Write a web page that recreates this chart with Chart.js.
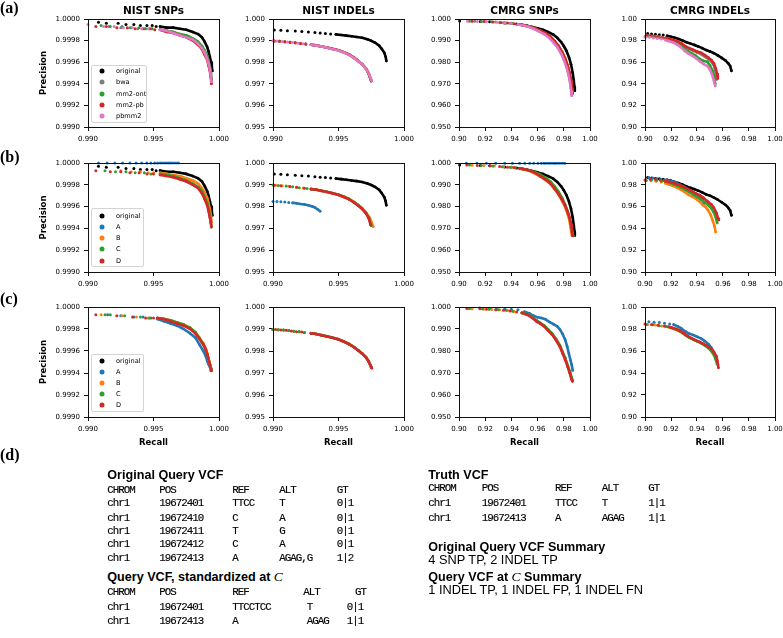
<!DOCTYPE html>
<html><head><meta charset="utf-8">
<script src="https://cdn.jsdelivr.net/npm/chart.js@4.4.0/dist/chart.umd.min.js"></script>
<style>
html,body{margin:0;padding:0;background:#fff;}
body{width:783px;height:638px;position:relative;overflow:hidden;font-family:'DejaVu Sans',sans-serif;color:#000;}
canvas{position:absolute;}
.t{position:absolute;white-space:nowrap;line-height:1;transform:translateY(-50%);}
.ptitle{font:bold 10.5px 'DejaVu Sans';transform:translate(-50%,-50%);}
.lab{font:bold 16px 'Liberation Serif';}
.hd{font:bold 12.6px 'Liberation Sans';}
.tx{font:12.8px 'Liberation Sans';}
.mono{font:10.8px 'Liberation Mono';letter-spacing:-0.98px;-webkit-text-stroke:0.15px #000;}
.leg{position:absolute;border:1px solid #d4d4d4;border-radius:2px;background:rgba(255,255,255,0.85);box-sizing:border-box;}
.legtxt{font:6.6px 'DejaVu Sans';}
.dot{position:absolute;width:5px;height:5px;border-radius:50%;transform:translate(-50%,-50%);}
i.m{font-family:'Liberation Serif';font-weight:normal;font-style:italic;font-size:13.5px;}
</style>
</head><body>
<script>
// ---------------- categories / labels ----------------
const panelTitles = ['NIST SNPs','NIST INDELs','CMRG SNPs','CMRG INDELs'];
const rowLabels = ['(a)','(b)','(c)','(d)'];
const legendA = ['original','bwa','mm2-ont','mm2-pb','pbmm2'];
const legendBC = ['original','A','B','C','D'];
const xTicksNist = ['0.990','0.995','1.000'];
const xTicksCmrg = ['0.90','0.92','0.94','0.96','0.98','1.00'];
const yTicksNistSnp = ['0.9990','0.9992','0.9994','0.9996','0.9998','1.0000'];
const yTicksNistIndel = ['0.995','0.996','0.997','0.998','0.999','1.000'];
const yTicksCmrgSnp = ['0.950','0.960','0.970','0.980','0.990','1.000'];
const yTicksCmrgIndel = ['0.90','0.92','0.94','0.96','0.98','1.00'];

// ---------------- data: [recall, precision] ----------------
// Row (a) NIST SNPs
const a1_orig_d = [[0.9908,0.99997],[0.9914,0.99996],[0.9923,0.99996],[0.9929,0.99995],[0.9935,0.99995],[0.9940,0.99994],[0.9945,0.99994],[0.9949,0.99994],[0.9952,0.99993]];
const a1_orig_l = [[0.9955,0.99993],[0.9960,0.99992],[0.9965,0.99992],[0.9970,0.99991],[0.9975,0.99990],[0.9980,0.99988],[0.9984,0.99986],[0.9987,0.99983],[0.9989,0.99979],[0.9991,0.99974],[0.9992,0.99970],[0.9993,0.99965],[0.99940,0.99960],[0.99945,0.99956],[0.99949,0.99952]];
const a1_bwa_d = [[0.9916,0.99993],[0.9925,0.99992],[0.9932,0.99992],[0.9938,0.99991],[0.9943,0.99991],[0.9948,0.99991]];
const a1_bwa_l = [[0.9955,0.99990],[0.9960,0.99989],[0.9965,0.99988],[0.9970,0.99986],[0.9975,0.99984],[0.9980,0.99981],[0.9984,0.99978],[0.9987,0.99974],[0.9989,0.99970],[0.9991,0.99964],[0.9992,0.99960],[0.9993,0.99955],[0.99938,0.99949],[0.99942,0.99943]];
const a1_ont_d = [[0.9910,0.99994],[0.9917,0.99993],[0.9926,0.99993],[0.9933,0.99992],[0.9939,0.99992],[0.9944,0.99991],[0.9949,0.99991]];
const a1_ont_l = [[0.9955,0.99990],[0.9960,0.99989],[0.9965,0.99988],[0.9970,0.99986],[0.9975,0.99985],[0.9980,0.99982],[0.9984,0.99979],[0.9987,0.99975],[0.9989,0.99971],[0.9991,0.99966],[0.9992,0.99961],[0.9993,0.99956],[0.99938,0.99950],[0.99942,0.99944]];
const a1_pb_d = [[0.9906,0.99993],[0.9914,0.99993],[0.9922,0.99992],[0.9930,0.99992],[0.9936,0.99991],[0.9942,0.99991],[0.9947,0.99991],[0.9951,0.99990]];
const a1_pb_l = [[0.9955,0.99990],[0.9960,0.99988],[0.9965,0.99987],[0.9970,0.99985],[0.9975,0.99983],[0.9980,0.99980],[0.9984,0.99976],[0.9987,0.99972],[0.9989,0.99967],[0.9991,0.99962],[0.9992,0.99957],[0.9993,0.99952],[0.99938,0.99946],[0.99942,0.99940]];
const a1_pbmm2_d = [[0.9900,0.99995],[0.9912,0.99993],[0.9920,0.99993],[0.9927,0.99992],[0.9934,0.99992],[0.9941,0.99991],[0.9946,0.99991]];
const a1_pbmm2_l = [[0.9955,0.99990],[0.9960,0.99989],[0.9965,0.99987],[0.9970,0.99985],[0.9975,0.99983],[0.9980,0.99981],[0.9984,0.99977],[0.9987,0.99973],[0.9989,0.99969],[0.9991,0.99963],[0.9992,0.99959],[0.9993,0.99954],[0.99938,0.99948],[0.99941,0.99942]];
// Row (a) NIST INDELs
const a2_orig_d = [[0.9901,0.99949],[0.9906,0.99948],[0.9911,0.99946],[0.9917,0.99944],[0.9922,0.99942],[0.9927,0.99940],[0.9932,0.99937],[0.9936,0.99935],[0.9940,0.99933],[0.9944,0.99931]];
const a2_orig_l = [[0.9948,0.99929],[0.9952,0.99926],[0.9956,0.99923],[0.9960,0.99920],[0.9964,0.99917],[0.9968,0.99913],[0.9972,0.99906],[0.9975,0.99899],[0.9978,0.99890],[0.9981,0.99877],[0.9983,0.99862],[0.9985,0.99843],[0.9986,0.99825],[0.99865,0.99806]];
const a2_mapped_d = [[0.9901,0.99898],[0.9905,0.99897],[0.9909,0.99895],[0.9913,0.99892],[0.9917,0.99890],[0.9921,0.99887],[0.9925,0.99884]];
const a2_mapped_l = [[0.9929,0.99881],[0.9933,0.99878],[0.9937,0.99873],[0.9941,0.99868],[0.9945,0.99862],[0.9950,0.99855],[0.9954,0.99846],[0.9958,0.99836],[0.9962,0.99820],[0.9965,0.99806],[0.9968,0.99791],[0.9971,0.99770],[0.9973,0.99748],[0.9975,0.99713]];
const a2_pbmm2_d = [[0.9900,0.99899],[0.9903,0.99898],[0.9907,0.99896],[0.9911,0.99894],[0.9915,0.99891],[0.9919,0.99888],[0.9923,0.99885]];
const a2_pbmm2_l = [[0.9929,0.99881],[0.9933,0.99877],[0.9937,0.99873],[0.9941,0.99867],[0.9945,0.99861],[0.9950,0.99854],[0.9954,0.99845],[0.9958,0.99834],[0.9962,0.99819],[0.9965,0.99805],[0.9968,0.99790],[0.9971,0.99769],[0.9973,0.99750],[0.99752,0.99716]];
// Row (a) CMRG SNPs
const a3_orig_d = [[0.9005,0.9991],[0.9163,0.9988],[0.9234,0.9987],[0.9349,0.9982],[0.9400,0.9980],[0.9440,0.9977]];
const a3_orig_l = [[0.9480,0.9973],[0.9520,0.9969],[0.9560,0.9963],[0.9600,0.9957],[0.9640,0.9950],[0.9680,0.9940],[0.9720,0.9928],[0.9750,0.9913],[0.9780,0.9893],[0.9800,0.9875],[0.9820,0.9853],[0.9840,0.9822],[0.9855,0.9790],[0.9868,0.9750],[0.9876,0.9715],[0.9882,0.9685],[0.9884,0.9668]];
const a3_bwa_d = [[0.9120,0.9990],[0.9200,0.9988],[0.9280,0.9986],[0.9340,0.9983],[0.9390,0.9980]];
const a3_bwa_l = [[0.9450,0.9976],[0.9490,0.9971],[0.9530,0.9965],[0.9570,0.9956],[0.9610,0.9944],[0.9650,0.9932],[0.9690,0.9914],[0.9720,0.9895],[0.9750,0.9872],[0.9780,0.9842],[0.9800,0.9815],[0.9820,0.9782],[0.9838,0.9745],[0.9850,0.9705],[0.9857,0.9672],[0.9862,0.9650]];
const a3_ont_d = [[0.9080,0.9990],[0.9170,0.9989],[0.9250,0.9987],[0.9310,0.9984],[0.9360,0.9982],[0.9410,0.9979]];
const a3_ont_l = [[0.9460,0.9975],[0.9500,0.9970],[0.9540,0.9964],[0.9580,0.9956],[0.9620,0.9945],[0.9660,0.9933],[0.9700,0.9916],[0.9730,0.9896],[0.9760,0.9873],[0.9790,0.9842],[0.9810,0.9815],[0.9830,0.9781],[0.9845,0.9744],[0.9855,0.9708],[0.9861,0.9676],[0.9865,0.9655]];
const a3_pb_d = [[0.9100,0.9990],[0.9190,0.9989],[0.9260,0.9986],[0.9320,0.9984],[0.9370,0.9981],[0.9420,0.9978]];
const a3_pb_l = [[0.9460,0.9975],[0.9500,0.9970],[0.9540,0.9965],[0.9580,0.9957],[0.9620,0.9946],[0.9660,0.9935],[0.9700,0.9918],[0.9730,0.9898],[0.9760,0.9876],[0.9790,0.9845],[0.9810,0.9818],[0.9830,0.9785],[0.9845,0.9748],[0.9856,0.9712],[0.9862,0.9680],[0.9866,0.9656]];
const a3_pbmm2_d = [[0.9065,0.9990],[0.9140,0.9989],[0.9210,0.9988],[0.9290,0.9985],[0.9350,0.9982],[0.9400,0.9979]];
const a3_pbmm2_l = [[0.9450,0.9975],[0.9490,0.9970],[0.9530,0.9964],[0.9570,0.9955],[0.9610,0.9943],[0.9650,0.9930],[0.9690,0.9912],[0.9720,0.9892],[0.9750,0.9870],[0.9780,0.9840],[0.9800,0.9812],[0.9820,0.9778],[0.9837,0.9740],[0.9849,0.9700],[0.9856,0.9665],[0.9860,0.9645]];
// Row (a) CMRG INDELs
const a4_orig_d = [[0.9020,0.9866],[0.9050,0.9862],[0.9080,0.9858],[0.9110,0.9855],[0.9140,0.9851]];
const a4_orig_l = [[0.9170,0.9845],[0.9200,0.9836],[0.9230,0.9826],[0.9260,0.9815],[0.9290,0.9800],[0.9320,0.9785],[0.9350,0.9772],[0.9380,0.9760],[0.9410,0.9746],[0.9440,0.9730],[0.9470,0.9712],[0.9500,0.9700],[0.9530,0.9683],[0.9560,0.9663],[0.9590,0.9640],[0.9620,0.9615],[0.9640,0.9590],[0.9655,0.9565],[0.9665,0.9520]];
const a4_bwa_d = [[0.9015,0.9845],[0.9045,0.9843],[0.9075,0.9840],[0.9105,0.9835],[0.9135,0.9828]];
const a4_bwa_l = [[0.9160,0.9820],[0.9190,0.9810],[0.9220,0.9800],[0.9250,0.9786],[0.9280,0.9768],[0.9310,0.9740],[0.9340,0.9722],[0.9370,0.9705],[0.9400,0.9690],[0.9430,0.9675],[0.9460,0.9650],[0.9490,0.9628],[0.9510,0.9605],[0.9530,0.9570],[0.9545,0.9500],[0.9550,0.9440]];
const a4_ont_d = [[0.9000,0.9835],[0.9030,0.9838],[0.9060,0.9835],[0.9090,0.9830],[0.9120,0.9825]];
const a4_ont_l = [[0.9150,0.9818],[0.9180,0.9808],[0.9210,0.9797],[0.9240,0.9783],[0.9270,0.9762],[0.9300,0.9725],[0.9330,0.9700],[0.9360,0.9680],[0.9390,0.9660],[0.9420,0.9630],[0.9450,0.9612],[0.9480,0.9605],[0.9500,0.9570],[0.9520,0.9520],[0.9535,0.9460],[0.9540,0.9400]];
const a4_pb_d = [[0.9010,0.9850],[0.9040,0.9848],[0.9070,0.9843],[0.9100,0.9838],[0.9130,0.9832]];
const a4_pb_l = [[0.9160,0.9825],[0.9190,0.9815],[0.9220,0.9806],[0.9250,0.9793],[0.9280,0.9775],[0.9310,0.9748],[0.9340,0.9730],[0.9370,0.9715],[0.9400,0.9700],[0.9430,0.9688],[0.9460,0.9665],[0.9490,0.9640],[0.9510,0.9620],[0.9530,0.9590],[0.9545,0.9540],[0.9555,0.9490],[0.9560,0.9450]];
const a4_pbmm2_d = [[0.9005,0.9830],[0.9035,0.9830],[0.9065,0.9825],[0.9095,0.9820],[0.9125,0.9815]];
const a4_pbmm2_l = [[0.9155,0.9806],[0.9185,0.9795],[0.9215,0.9782],[0.9245,0.9765],[0.9275,0.9740],[0.9305,0.9705],[0.9335,0.9680],[0.9365,0.9658],[0.9395,0.9635],[0.9425,0.9605],[0.9455,0.9580],[0.9480,0.9565],[0.9500,0.9530],[0.9515,0.9490],[0.9530,0.9430],[0.9540,0.9380]];

// Row (b) NIST SNPs (original reused from row a)
const b1_A_d = [[0.9908,1.0],[0.99146,1.0],[0.99205,1.0],[0.99264,1.0],[0.9932,1.0],[0.99367,1.0],[0.9941,1.0],[0.99449,1.0],[0.9948,1.0],[0.99508,1.0],[0.99531,1.0]];
const b1_A_l = [[0.9955,1.0],[0.9962,1.0],[0.9969,1.0]];
const b1_B_d = [[0.9925,0.99993],[0.9933,0.99992],[0.9940,0.99992],[0.9946,0.99991],[0.9950,0.99991]];
const b1_B_l = [[0.9955,0.99991],[0.9960,0.99990],[0.9965,0.99989],[0.9970,0.99988],[0.9975,0.99986],[0.9980,0.99984],[0.9984,0.99981],[0.9987,0.99977],[0.9989,0.99973],[0.9991,0.99968],[0.9992,0.99963],[0.9993,0.99958],[0.99938,0.99952],[0.99943,0.99946]];
const b1_C_d = [[0.9913,0.99993],[0.9921,0.99992],[0.9929,0.99992],[0.9936,0.99991],[0.9943,0.99991],[0.9948,0.99990]];
const b1_C_l = [[0.9955,0.99990],[0.9960,0.99989],[0.9965,0.99988],[0.9970,0.99986],[0.9975,0.99984],[0.9980,0.99981],[0.9984,0.99978],[0.9987,0.99974],[0.9989,0.99969],[0.9991,0.99963],[0.9992,0.99958],[0.9993,0.99952],[0.99938,0.99946],[0.99941,0.99941]];
const b1_D_d = [[0.9906,0.99993],[0.9917,0.99992],[0.9925,0.99992],[0.9932,0.99991],[0.9939,0.99991],[0.9945,0.99990],[0.9950,0.99990]];
const b1_D_l = [[0.9955,0.99989],[0.9960,0.99988],[0.9965,0.99987],[0.9970,0.99985],[0.9975,0.99983],[0.9980,0.99980],[0.9984,0.99977],[0.9987,0.99972],[0.9989,0.99967],[0.9991,0.99961],[0.9992,0.99956],[0.9993,0.99950],[0.99938,0.99945],[0.99942,0.99942]];
// Row (b) NIST INDELs
const b2_A_d = [[0.9900,0.99823],[0.9903,0.99823],[0.9906,0.99822],[0.9909,0.99821],[0.9912,0.99819]];
const b2_A_l = [[0.9915,0.99817],[0.9918,0.99815],[0.9921,0.99812],[0.9924,0.99810],[0.9927,0.99806],[0.9930,0.99801],[0.9932,0.99796],[0.9934,0.99788],[0.9936,0.99779]];
const b2_B_d = [[0.9902,0.99898],[0.9907,0.99896],[0.9912,0.99893],[0.9918,0.99889],[0.9923,0.99885]];
const b2_B_l = [[0.9929,0.99881],[0.9933,0.99878],[0.9937,0.99873],[0.9941,0.99868],[0.9945,0.99862],[0.9950,0.99855],[0.9954,0.99846],[0.9958,0.99836],[0.9962,0.99821],[0.9965,0.99808],[0.9968,0.99793],[0.9971,0.99773],[0.9974,0.99748],[0.99765,0.99708]];
const b2_C_d = [[0.9900,0.99899],[0.9904,0.99897],[0.9910,0.99894],[0.9915,0.99891],[0.9920,0.99887],[0.9926,0.99883]];
const b2_C_l = [[0.9929,0.99881],[0.9933,0.99877],[0.9937,0.99873],[0.9941,0.99868],[0.9945,0.99862],[0.9950,0.99854],[0.9954,0.99845],[0.9958,0.99835],[0.9962,0.99820],[0.9965,0.99806],[0.9968,0.99791],[0.9971,0.99771],[0.9973,0.99750],[0.99750,0.99712]];
const b2_D_d = [[0.9901,0.99898],[0.9906,0.99896],[0.9913,0.99892],[0.9918,0.99889],[0.9924,0.99884]];
const b2_D_l = [[0.9929,0.99880],[0.9933,0.99877],[0.9937,0.99872],[0.9941,0.99867],[0.9945,0.99861],[0.9950,0.99853],[0.9954,0.99844],[0.9958,0.99833],[0.9962,0.99818],[0.9965,0.99804],[0.9968,0.99789],[0.9971,0.99768],[0.9973,0.99748],[0.99745,0.99716]];
// Row (b) CMRG SNPs
const b3_A_d = [[0.9056,0.9999],[0.9137,0.9999],[0.9209,0.9999],[0.9280,0.9999],[0.9349,0.9999],[0.9408,0.9999],[0.9463,0.9999],[0.9502,0.9999],[0.9540,0.9999],[0.9570,0.9999],[0.9603,0.9999],[0.9629,0.9999]];
const b3_A_l = [[0.9650,0.9999],[0.9730,0.9999],[0.9808,0.9999]];
const b3_B_d = [[0.9100,0.9990],[0.9190,0.9988],[0.9270,0.9986],[0.9340,0.9983],[0.9400,0.9980]];
const b3_B_l = [[0.9460,0.9975],[0.9500,0.9970],[0.9540,0.9963],[0.9580,0.9952],[0.9620,0.9938],[0.9660,0.9922],[0.9700,0.9902],[0.9730,0.9880],[0.9760,0.9855],[0.9790,0.9823],[0.9810,0.9798],[0.9830,0.9765],[0.9843,0.9735],[0.9852,0.9705],[0.9858,0.9680],[0.9862,0.9668]];
const b3_C_d = [[0.9080,0.9991],[0.9170,0.9989],[0.9260,0.9986],[0.9330,0.9983],[0.9390,0.9980],[0.9430,0.9978]];
const b3_C_l = [[0.9460,0.9976],[0.9500,0.9971],[0.9540,0.9966],[0.9580,0.9958],[0.9620,0.9947],[0.9660,0.9933],[0.9700,0.9914],[0.9730,0.9893],[0.9760,0.9868],[0.9790,0.9837],[0.9810,0.9810],[0.9830,0.9778],[0.9848,0.9740],[0.9860,0.9705],[0.9867,0.9678],[0.9872,0.9665]];
const b3_D_d = [[0.9060,0.9991],[0.9140,0.9989],[0.9240,0.9987],[0.9310,0.9984],[0.9370,0.9981],[0.9420,0.9979]];
const b3_D_l = [[0.9460,0.9976],[0.9500,0.9971],[0.9540,0.9965],[0.9580,0.9955],[0.9620,0.9940],[0.9660,0.9924],[0.9700,0.9905],[0.9730,0.9882],[0.9760,0.9858],[0.9790,0.9828],[0.9810,0.9805],[0.9830,0.9775],[0.9845,0.9748],[0.9856,0.9715],[0.9862,0.9685],[0.9866,0.9666]];
// Row (b) CMRG INDELs
const b4_A_d = [[0.9030,0.9868],[0.9060,0.9862],[0.9090,0.9858],[0.9120,0.9852]];
const b4_A_l = [[0.9150,0.9846],[0.9180,0.9838],[0.9210,0.9830],[0.9240,0.9818],[0.9270,0.9800],[0.9300,0.9780],[0.9330,0.9760],[0.9360,0.9738],[0.9390,0.9715],[0.9420,0.9690],[0.9440,0.9665],[0.9455,0.9630]];
const b4_B_d = [[0.9005,0.9838],[0.9045,0.9838],[0.9085,0.9832],[0.9125,0.9825]];
const b4_B_l = [[0.9155,0.9815],[0.9185,0.9803],[0.9215,0.9790],[0.9245,0.9775],[0.9275,0.9755],[0.9305,0.9735],[0.9335,0.9708],[0.9365,0.9690],[0.9395,0.9670],[0.9425,0.9640],[0.9445,0.9614],[0.9465,0.9598],[0.9485,0.9568],[0.9505,0.9525],[0.9520,0.9476],[0.9535,0.9420],[0.9543,0.9367]];
const b4_C_d = [[0.9010,0.9840],[0.9050,0.9845],[0.9090,0.9842],[0.9130,0.9835]];
const b4_C_l = [[0.9160,0.9828],[0.9190,0.9818],[0.9220,0.9806],[0.9250,0.9792],[0.9280,0.9775],[0.9310,0.9755],[0.9340,0.9735],[0.9370,0.9712],[0.9400,0.9690],[0.9430,0.9665],[0.9460,0.9640],[0.9490,0.9610],[0.9510,0.9585],[0.9530,0.9545],[0.9545,0.9500],[0.9555,0.9450]];
const b4_D_d = [[0.9000,0.9845],[0.9040,0.9850],[0.9080,0.9848],[0.9120,0.9842]];
const b4_D_l = [[0.9150,0.9836],[0.9180,0.9828],[0.9210,0.9820],[0.9240,0.9808],[0.9270,0.9795],[0.9300,0.9778],[0.9330,0.9760],[0.9360,0.9742],[0.9390,0.9722],[0.9420,0.9705],[0.9450,0.9680],[0.9480,0.9650],[0.9510,0.9620],[0.9530,0.9590],[0.9550,0.9540],[0.9562,0.9490],[0.9568,0.9478]];

// Row (c) NIST SNPs
const c1_A_d = [[0.9915,0.99993],[0.9925,0.99992],[0.9935,0.99991],[0.9942,0.99991],[0.9948,0.99990]];
const c1_A_l = [[0.9953,0.99989],[0.9958,0.99987],[0.9963,0.99985],[0.9968,0.99983],[0.9973,0.99980],[0.9978,0.99976],[0.9982,0.99972],[0.9985,0.99966],[0.9988,0.99960],[0.9990,0.99955],[0.9991,0.99951],[0.9992,0.99948],[0.99932,0.99945],[0.99938,0.99942]];
const c1_B_d = [[0.9910,0.99993],[0.9926,0.99992],[0.9937,0.99991],[0.9946,0.99990]];
const c1_B_l = [[0.9953,0.99990],[0.9958,0.99989],[0.9963,0.99988],[0.9968,0.99986],[0.9973,0.99984],[0.9978,0.99981],[0.9982,0.99977],[0.9985,0.99972],[0.9988,0.99967],[0.9990,0.99962],[0.9991,0.99958],[0.9992,0.99953],[0.9993,0.99948],[0.99942,0.99943]];
const c1_C_d = [[0.9913,0.99993],[0.9917,0.99993],[0.9928,0.99992],[0.9940,0.99991],[0.9947,0.99990]];
const c1_C_l = [[0.9953,0.99990],[0.9958,0.99989],[0.9963,0.99988],[0.9968,0.99986],[0.9973,0.99984],[0.9978,0.99981],[0.9982,0.99977],[0.9985,0.99972],[0.9988,0.99966],[0.9990,0.99961],[0.9991,0.99957],[0.9992,0.99953],[0.9993,0.99948],[0.99942,0.99943]];
const c1_D_d = [[0.9906,0.99993],[0.9922,0.99992],[0.9934,0.99991],[0.9944,0.99990],[0.9950,0.99990]];
const c1_D_l = [[0.9953,0.99990],[0.9958,0.99989],[0.9963,0.99987],[0.9968,0.99985],[0.9973,0.99983],[0.9978,0.99980],[0.9982,0.99976],[0.9985,0.99971],[0.9988,0.99966],[0.9990,0.99961],[0.9991,0.99957],[0.9992,0.99953],[0.9993,0.99948],[0.99943,0.99942]];
// Row (c) NIST INDELs
const c2_ABC_d = [[0.9900,0.99898],[0.9904,0.99897],[0.9908,0.99895],[0.9912,0.99893],[0.9916,0.99890],[0.9920,0.99887],[0.9924,0.99884]];
const c2_ABC_l = [[0.9929,0.99881],[0.9933,0.99877],[0.9937,0.99872],[0.9941,0.99867],[0.9945,0.99861],[0.9950,0.99853],[0.9954,0.99843],[0.9958,0.99832],[0.9962,0.99817],[0.9965,0.99803],[0.9968,0.99789],[0.9971,0.99772],[0.9973,0.99754],[0.99750,0.99725]];
const c2_D_d = [[0.9902,0.99898],[0.9906,0.99896],[0.9910,0.99894],[0.9914,0.99891],[0.9918,0.99888],[0.9922,0.99886]];
const c2_D_l = [[0.9929,0.99880],[0.9933,0.99877],[0.9937,0.99872],[0.9941,0.99866],[0.9945,0.99860],[0.9950,0.99852],[0.9954,0.99843],[0.9958,0.99831],[0.9962,0.99816],[0.9965,0.99802],[0.9968,0.99788],[0.9971,0.99770],[0.9973,0.99752],[0.99755,0.99722]];
// Row (c) CMRG SNPs
const c3_A_d = [[0.9158,0.9995],[0.9240,0.9993],[0.9285,0.9992],[0.9349,0.9991],[0.9400,0.9990],[0.9450,0.9987]];
const c3_A_l = [[0.9500,0.9978],[0.9540,0.9970],[0.9570,0.9960],[0.9600,0.9953],[0.9630,0.9950],[0.9660,0.9944],[0.9690,0.9932],[0.9720,0.9922],[0.9750,0.9912],[0.9770,0.9898],[0.9790,0.9878],[0.9810,0.9852],[0.9825,0.9822],[0.9838,0.9790],[0.9850,0.9760],[0.9860,0.9738],[0.9868,0.9712]];
const c3_B_d = [[0.9100,0.9992],[0.9190,0.9991],[0.9250,0.9989],[0.9310,0.9987],[0.9370,0.9984],[0.9420,0.9979]];
const c3_B_l = [[0.9480,0.9973],[0.9520,0.9966],[0.9560,0.9952],[0.9590,0.9937],[0.9620,0.9926],[0.9650,0.9914],[0.9680,0.9895],[0.9710,0.9877],[0.9740,0.9852],[0.9770,0.9822],[0.9790,0.9793],[0.9810,0.9765],[0.9830,0.9730],[0.9846,0.9702],[0.9859,0.9675],[0.9867,0.9664]];
const c3_C_d = [[0.9080,0.9992],[0.9180,0.9991],[0.9230,0.9990],[0.9300,0.9988],[0.9360,0.9985],[0.9410,0.9981]];
const c3_C_l = [[0.9480,0.9974],[0.9520,0.9967],[0.9560,0.9955],[0.9590,0.9940],[0.9620,0.9928],[0.9650,0.9916],[0.9680,0.9898],[0.9710,0.9880],[0.9740,0.9856],[0.9770,0.9826],[0.9790,0.9798],[0.9810,0.9770],[0.9830,0.9735],[0.9848,0.9705],[0.9860,0.9680],[0.9868,0.9665]];
const c3_D_d = [[0.9060,0.9993],[0.9160,0.9992],[0.9210,0.9990],[0.9280,0.9988],[0.9340,0.9985],[0.9390,0.9982],[0.9440,0.9977]];
const c3_D_l = [[0.9480,0.9973],[0.9520,0.9965],[0.9560,0.9950],[0.9590,0.9935],[0.9620,0.9924],[0.9650,0.9912],[0.9680,0.9893],[0.9710,0.9875],[0.9740,0.9850],[0.9770,0.9820],[0.9790,0.9790],[0.9810,0.9762],[0.9830,0.9728],[0.9845,0.9700],[0.9858,0.9672],[0.9866,0.9662]];
// Row (c) CMRG INDELs
const c4_A_d = [[0.9030,0.9866],[0.9070,0.9862],[0.9110,0.9858],[0.9150,0.9852],[0.9190,0.9846]];
const c4_A_l = [[0.9220,0.9840],[0.9250,0.9825],[0.9280,0.9805],[0.9310,0.9778],[0.9340,0.9758],[0.9370,0.9745],[0.9400,0.9730],[0.9430,0.9715],[0.9460,0.9690],[0.9490,0.9660],[0.9510,0.9630],[0.9530,0.9590],[0.9545,0.9545],[0.9555,0.9510]];
const c4_B_d = [[0.9020,0.9842],[0.9080,0.9836],[0.9130,0.9828]];
const c4_B_l = [[0.9170,0.9820],[0.9200,0.9810],[0.9230,0.9798],[0.9260,0.9782],[0.9290,0.9760],[0.9320,0.9738],[0.9350,0.9718],[0.9380,0.9700],[0.9410,0.9685],[0.9440,0.9668],[0.9470,0.9645],[0.9500,0.9615],[0.9520,0.9585],[0.9540,0.9545],[0.9550,0.9505]];
const c4_C_d = [[0.9010,0.9840],[0.9060,0.9838],[0.9110,0.9830],[0.9160,0.9822]];
const c4_C_l = [[0.9190,0.9815],[0.9220,0.9805],[0.9250,0.9792],[0.9280,0.9772],[0.9310,0.9745],[0.9340,0.9722],[0.9370,0.9705],[0.9400,0.9688],[0.9430,0.9672],[0.9460,0.9650],[0.9490,0.9625],[0.9510,0.9600],[0.9530,0.9565],[0.9545,0.9520],[0.9555,0.9480]];
const c4_D_d = [[0.9000,0.9845],[0.9050,0.9842],[0.9100,0.9835],[0.9150,0.9828]];
const c4_D_l = [[0.9180,0.9820],[0.9210,0.9812],[0.9240,0.9800],[0.9270,0.9785],[0.9300,0.9760],[0.9330,0.9735],[0.9360,0.9715],[0.9390,0.9698],[0.9420,0.9683],[0.9450,0.9665],[0.9480,0.9645],[0.9510,0.9620],[0.9530,0.9590],[0.9550,0.9550],[0.9560,0.9490],[0.9565,0.9448]];

// ---------------- table text (panel d) ----------------
const vcfHeader = ['CHROM','POS','REF','ALT','GT'];
const origQueryRows = [['chr1','19672401','TTCC','T','0|1'],['chr1','19672410','C','A','0|1'],['chr1','19672411','T','G','0|1'],['chr1','19672412','C','A','0|1'],['chr1','19672413','A','AGAG,G','1|2']];
const stdQueryRows = [['chr1','19672401','TTCCTCC','T','0|1'],['chr1','19672413','A','AGAG','1|1']];
const truthRows = [['chr1','19672401','TTCC','T','1|1'],['chr1','19672413','A','AGAG','1|1']];
const summaryOrig = '4 SNP TP, 2 INDEL TP';
const summaryStd = '1 INDEL TP, 1 INDEL FP, 1 INDEL FN';

// ---------------- styling / layout ----------------
const COL = {orig:'#000000', bwa:'#7f7f7f', ont:'#2ca02c', pb:'#d62728', pbmm2:'#e377c2', A:'#1f77b4', B:'#ff7f0e', C:'#2ca02c', D:'#d62728'};
const COLS = [{left:88,w:131},{left:273,w:131},{left:459,w:131},{left:645,w:130}];
const ROWS = [{top:19,h:108},{top:163,h:109},{top:307,h:110}];
const PAD_L = 70, PAD_T = 10, PAD_R = 16, PAD_B = 45;
const AX = [
  {xmin:0.990,xmax:1.000,xt:xTicksNist,ymin:0.999,ymax:1.0,yt:yTicksNistSnp},
  {xmin:0.990,xmax:1.000,xt:xTicksNist,ymin:0.995,ymax:1.0,yt:yTicksNistIndel},
  {xmin:0.90,xmax:1.00,xt:xTicksCmrg,ymin:0.95,ymax:1.0,yt:yTicksCmrgSnp},
  {xmin:0.90,xmax:1.00,xt:xTicksCmrg,ymin:0.90,ymax:1.0,yt:yTicksCmrgIndel}
];

const S = (color,d,l)=>({color,dots:d,line:l});
const PANELS = [
  [ [S(COL.orig,a1_orig_d,a1_orig_l),S(COL.bwa,a1_bwa_d,a1_bwa_l),S(COL.ont,a1_ont_d,a1_ont_l),S(COL.pb,a1_pb_d,a1_pb_l),S(COL.pbmm2,a1_pbmm2_d,a1_pbmm2_l)],
    [S(COL.orig,a2_orig_d,a2_orig_l),S(COL.bwa,a2_mapped_d,a2_mapped_l),S(COL.ont,a2_mapped_d,a2_mapped_l),S(COL.pb,a2_mapped_d,a2_mapped_l),S(COL.pbmm2,a2_pbmm2_d,a2_pbmm2_l)],
    [S(COL.orig,a3_orig_d,a3_orig_l),S(COL.bwa,a3_bwa_d,a3_bwa_l),S(COL.ont,a3_ont_d,a3_ont_l),S(COL.pb,a3_pb_d,a3_pb_l),S(COL.pbmm2,a3_pbmm2_d,a3_pbmm2_l)],
    [S(COL.orig,a4_orig_d,a4_orig_l),S(COL.bwa,a4_bwa_d,a4_bwa_l),S(COL.ont,a4_ont_d,a4_ont_l),S(COL.pb,a4_pb_d,a4_pb_l),S(COL.pbmm2,a4_pbmm2_d,a4_pbmm2_l)] ],
  [ [S(COL.orig,a1_orig_d,a1_orig_l),S(COL.A,b1_A_d,b1_A_l),S(COL.B,b1_B_d,b1_B_l),S(COL.C,b1_C_d,b1_C_l),S(COL.D,b1_D_d,b1_D_l)],
    [S(COL.orig,a2_orig_d,a2_orig_l),S(COL.A,b2_A_d,b2_A_l),S(COL.B,b2_B_d,b2_B_l),S(COL.C,b2_C_d,b2_C_l),S(COL.D,b2_D_d,b2_D_l)],
    [S(COL.orig,a3_orig_d,a3_orig_l),S(COL.A,b3_A_d,b3_A_l),S(COL.B,b3_B_d,b3_B_l),S(COL.C,b3_C_d,b3_C_l),S(COL.D,b3_D_d,b3_D_l)],
    [S(COL.orig,a4_orig_d,a4_orig_l),S(COL.A,b4_A_d,b4_A_l),S(COL.B,b4_B_d,b4_B_l),S(COL.C,b4_C_d,b4_C_l),S(COL.D,b4_D_d,b4_D_l)] ],
  [ [S(COL.A,c1_A_d,c1_A_l),S(COL.B,c1_B_d,c1_B_l),S(COL.C,c1_C_d,c1_C_l),S(COL.D,c1_D_d,c1_D_l)],
    [S(COL.A,c2_ABC_d,c2_ABC_l),S(COL.B,c2_ABC_d,c2_ABC_l),S(COL.C,c2_ABC_d,c2_ABC_l),S(COL.D,c2_D_d,c2_D_l)],
    [S(COL.A,c3_A_d,c3_A_l),S(COL.B,c3_B_d,c3_B_l),S(COL.C,c3_C_d,c3_C_l),S(COL.D,c3_D_d,c3_D_l)],
    [S(COL.A,c4_A_d,c4_A_l),S(COL.B,c4_B_d,c4_B_l),S(COL.C,c4_C_d,c4_C_l),S(COL.D,c4_D_d,c4_D_l)] ]
];

Chart.defaults.font.family = "'DejaVu Sans', sans-serif";
Chart.defaults.color = '#000';

const framePlugin = {
  id:'frame',
  afterDraw(chart){
    const {ctx, chartArea:a} = chart;
    ctx.save(); ctx.strokeStyle = '#111'; ctx.lineWidth = 1;
    ctx.strokeRect(Math.round(a.left)+0.5, Math.round(a.top)+0.5, Math.round(a.width), Math.round(a.height));
    ctx.restore();
  }
};
const toPts = arr => arr.map(p => ({x:p[0], y:p[1]}));

function makeChart(r, c){
  const W = COLS[c].w, H = ROWS[r].h, ax = AX[c];
  const cw = PAD_L + W + PAD_R, ch = PAD_T + H + PAD_B;
  const cv = document.createElement('canvas');
  cv.width = cw; cv.height = ch;
  cv.style.left = (COLS[c].left - PAD_L) + 'px'; cv.style.top = (ROWS[r].top - PAD_T) + 'px';
  cv.style.width = cw + 'px'; cv.style.height = ch + 'px';
  document.body.appendChild(cv);
  const datasets = [];
  PANELS[r][c].forEach(s => {
    datasets.push({data:toPts(s.dots), showLine:false, pointRadius:1.5, pointHoverRadius:0, pointBorderWidth:0, pointBackgroundColor:s.color, borderColor:s.color, clip:false});
    datasets.push({data:toPts(s.line), showLine:true, borderColor:s.color, borderWidth:2.6, borderCapStyle:'round', borderJoinStyle:'round', tension:0, pointRadius:1.3, pointHoverRadius:0, pointBorderWidth:0, pointBackgroundColor:s.color, clip:false});
  });
  datasets.reverse(); // first dataset in Chart.js is drawn on top
  const grid = {drawOnChartArea:false, drawTicks:true, tickLength:4, color:'#111', lineWidth:1};
  new Chart(cv, {
    type:'scatter',
    data:{datasets},
    options:{
      responsive:false, animation:false, events:[],
      layout:{padding:{left:0, top:PAD_T, right:PAD_R, bottom:0}},
      plugins:{legend:{display:false}, tooltip:{enabled:false}},
      scales:{
        x:{type:'linear', min:ax.xmin, max:ax.xmax,
           afterBuildTicks:s => { s.ticks = ax.xt.map(v => ({value:parseFloat(v)})); },
           afterFit:s => { s.height = PAD_B; s.paddingLeft = 0; s.paddingRight = 0; },
           ticks:{callback:(v,i) => ax.xt[i], font:{size:7}, color:'#000', maxRotation:0, autoSkip:false, padding:4},
           grid, border:{display:false},
           title:{display:r===2, text:'Recall', color:'#000', font:{size:8.5, weight:'bold'}, padding:{top:0,bottom:14}}},
        y:{type:'linear', min:ax.ymin, max:ax.ymax,
           afterBuildTicks:s => { s.ticks = ax.yt.map(v => ({value:parseFloat(v)})); },
           afterFit:s => { s.width = PAD_L; s.paddingTop = 0; s.paddingBottom = 0; },
           ticks:{callback:(v,i) => ax.yt[i], font:{size:7}, color:'#000', autoSkip:false, padding:4},
           grid, border:{display:false},
           title:{display:c===0, text:'Precision', color:'#000', font:{size:8.5, weight:'bold'}, padding:{top:21,bottom:0}}}
      }
    },
    plugins:[framePlugin]
  });
}
for (let r = 0; r < 3; r++) for (let c = 0; c < 4; c++) makeChart(r, c);

// ---------------- HTML text ----------------
function txt(x, y, html, cls, extra){
  const d = document.createElement('div');
  d.className = 't ' + cls; d.style.left = x + 'px'; d.style.top = y + 'px';
  d.innerHTML = html; if (extra) Object.assign(d.style, extra);
  document.body.appendChild(d); return d;
}
panelTitles.forEach((t, c) => txt(COLS[c].left + COLS[c].w / 2, 9.5, t, 'ptitle'));
[7.5, 157, 299, 455].forEach((y, i) => txt(0, y, rowLabels[i], 'lab'));
function legend(box, labels, colors, ys){
  const b = document.createElement('div'); b.className = 'leg';
  Object.assign(b.style, {left:box[0]+'px', top:box[1]+'px', width:box[2]+'px', height:box[3]+'px'});
  document.body.appendChild(b);
  labels.forEach((l, i) => {
    const m = document.createElement('div'); m.className = 'dot';
    Object.assign(m.style, {left:'102.3px', top:ys[i]+'px', background:colors[i]});
    document.body.appendChild(m);
    txt(116, ys[i], l, 'legtxt');
  });
}
legend([91,65,56,58], legendA, [COL.orig,COL.bwa,COL.ont,COL.pb,COL.pbmm2], [71,82.3,94,105,116.3]);
legend([91,208,53,59], legendBC, [COL.orig,COL.A,COL.B,COL.C,COL.D], [216,227.3,238.3,249.3,260.7]);
legend([91,354,53,58], legendBC, [COL.orig,COL.A,COL.B,COL.C,COL.D], [361,371.7,382.7,394,405]);

function table(xs, yHead, yRows, header, rows, headXs){
  header.forEach((h, j) => txt((headXs||xs)[j], yHead, h, 'mono'));
  rows.forEach((row, i) => row.forEach((v, j) => txt(xs[j], yRows[i], v, 'mono')));
}
txt(107.3, 475, 'Original Query VCF', 'hd');
table([107.3,159.3,232.3,279.3,336.7], 490, [503.3,517.7,531,544.3,558.3], vcfHeader, origQueryRows);
txt(107.3, 576.7, 'Query VCF, standardized at <i class="m">C</i>', 'hd');
table([107.3,159.3,232.3,306.7,346.7], 591.7, [606.7,620.7], vcfHeader, stdQueryRows, [107.3,159.3,232.3,303.3,355]);
txt(428.3, 475, 'Truth VCF', 'hd');
table([428.3,481.7,555,601.7,648.3], 488, [502.7,517.7], vcfHeader, truthRows);
txt(428.3, 546.7, 'Original Query VCF Summary', 'hd');
txt(428.3, 559.3, summaryOrig, 'tx');
txt(428.3, 577.3, 'Query VCF at <i class="m">C</i> Summary', 'hd');
txt(428.3, 589.3, summaryStd, 'tx');
</script>
</body></html>
